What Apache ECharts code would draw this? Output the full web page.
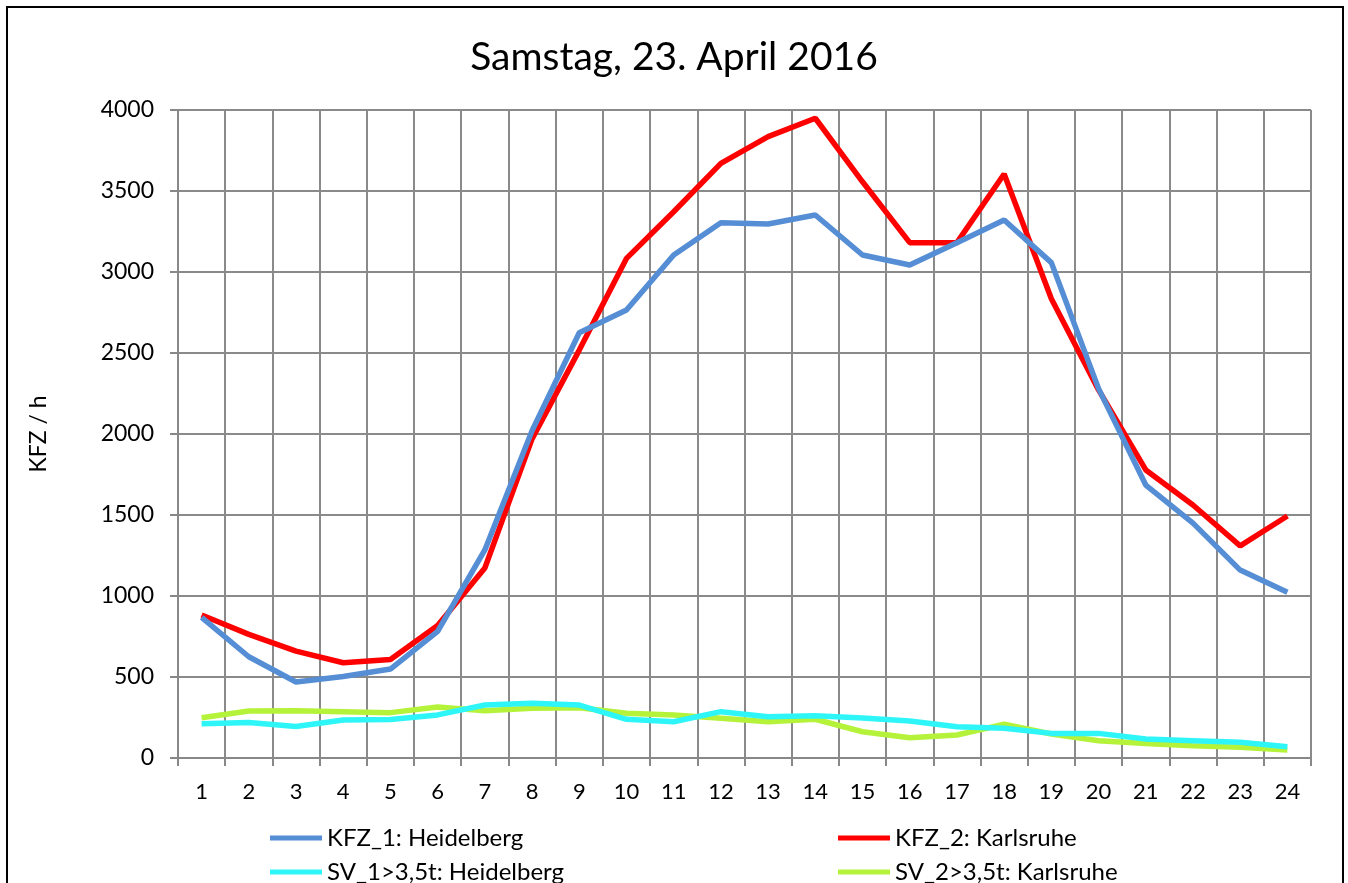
<!DOCTYPE html>
<html>
<head>
<meta charset="utf-8">
<script src="https://cdn.jsdelivr.net/npm/echarts@6/dist/echarts.min.js"></script>
<style>
  html, body { margin: 0; padding: 0; background: #fff; }
  #chart { width: 1348px; height: 883px; }
</style>
</head>
<body>
<div id="chart"></div>
<script>
// Stunden 1..24
var hours = ['1','2','3','4','5','6','7','8','9','10','11','12','13','14','15','16','17','18','19','20','21','22','23','24'];
var kfz1 = [868, 625, 469, 503, 549, 782, 1284, 2020, 2625, 2765, 3105, 3304, 3296, 3352, 3105, 3043, 3181, 3321, 3058, 2280, 1685, 1450, 1160, 1023];
var kfz2 = [883, 763, 660, 588, 608, 818, 1173, 1970, 2518, 3084, 3372, 3671, 3836, 3949, 3557, 3181, 3181, 3605, 2835, 2272, 1778, 1562, 1309, 1494];
var sv1 = [211, 219, 195, 235, 237, 266, 327, 338, 327, 239, 224, 286, 255, 261, 247, 228, 193, 183, 152, 152, 117, 107, 97, 70];
var sv2 = [249, 290, 292, 286, 280, 315, 292, 307, 310, 276, 265, 245, 224, 239, 162, 125, 142, 208, 148, 107, 90, 76, 66, 49];
var names = ['KFZ_1: Heidelberg', 'KFZ_2: Karlsruhe', 'SV_1>3,5t: Heidelberg', 'SV_2>3,5t: Karlsruhe'];
var colors = ['#558ED5', '#FF0000', '#2EF5F7', '#B5F23A'];

var font = 'Lato, "Open Sans", sans-serif';
var chart = echarts.init(document.getElementById('chart'));

function mkSeries(i, data) {
  return {
    name: names[i],
    type: 'line',
    data: data,
    symbol: 'none',
    lineStyle: { color: colors[i], width: 5.5 },
    itemStyle: { color: colors[i] },
    z: 10 - i
  };
}

// eine Legende pro Eintrag, damit die Spalten wie im Original stehen
function mkLegend(i, left, top) {
  return {
    left: left,
    top: top,
    padding: 0,
    data: [names[i]],
    icon: 'rect',
    itemWidth: 52,
    itemHeight: 5,
    textStyle: { fontFamily: font, fontSize: 24, color: '#000', lineHeight: 26 }
  };
}

chart.setOption({
  animation: false,
  backgroundColor: '#fff',
  title: {
    text: 'Samstag, 23. April 2016',
    left: 'center',
    top: 33,
    textStyle: { fontFamily: font, fontSize: 39, fontWeight: 'normal', color: '#000' }
  },
  graphic: [{
    type: 'rect',
    shape: { x: 7, y: 7, width: 1336, height: 900 },
    style: { fill: null, stroke: '#000', lineWidth: 2 }
  }],
  legend: [
    mkLegend(0, 270, 825),
    mkLegend(2, 270, 859),
    mkLegend(1, 838, 825),
    mkLegend(3, 838, 859)
  ],
  grid: { left: 178, right: 37, top: 110, bottom: 125 },
  xAxis: {
    type: 'category',
    data: hours,
    boundaryGap: true,
    axisLine: { lineStyle: { color: '#888', width: 2 } },
    axisTick: { show: true, length: 8, lineStyle: { color: '#888', width: 2 } },
    axisLabel: { fontFamily: font, fontSize: 22, color: '#000', margin: 23 },
    splitLine: { show: true, interval: 0, lineStyle: { color: '#8a8a8a', width: 2 } }
  },
  yAxis: {
    type: 'value',
    min: 0,
    max: 4000,
    interval: 500,
    name: 'KFZ / h',
    nameLocation: 'middle',
    nameRotate: 90,
    nameGap: 128,
    nameTextStyle: { fontFamily: font, fontSize: 23, color: '#000' },
    axisLine: { show: true, lineStyle: { color: '#888', width: 2 } },
    axisTick: { show: true, length: 8, lineStyle: { color: '#888', width: 2 } },
    axisLabel: {
      fontFamily: font, fontSize: 23, color: '#000', margin: 24,
      formatter: function (v) { return String(v); }
    },
    splitLine: { show: true, lineStyle: { color: '#8a8a8a', width: 2 } }
  },
  series: [
    mkSeries(0, kfz1),
    mkSeries(1, kfz2),
    mkSeries(2, sv1),
    mkSeries(3, sv2)
  ]
});
</script>
</body>
</html>
